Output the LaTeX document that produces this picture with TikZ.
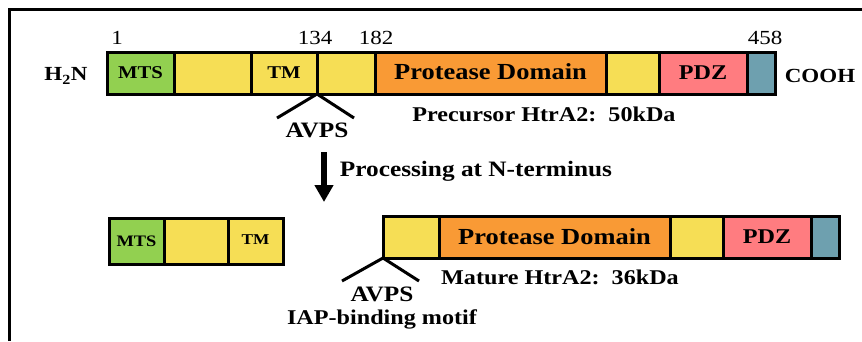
\documentclass[tikz,border=0pt]{standalone}
\usepackage{fontspec}
\setmainfont{Liberation Serif}[FakeStretch=1.15]
\usepackage{tikz}
\usetikzlibrary{arrows.meta}
\usetikzlibrary{positioning}
\usepackage{xcolor}
\definecolor{mtsgreen}{HTML}{92D050}
\definecolor{tmyellow}{HTML}{F6DE55}
\definecolor{protorange}{HTML}{F99A35}
\definecolor{pdzpink}{HTML}{FF7C80}
\definecolor{tailblue}{HTML}{6EA0AF}
\newcommand\fsz[1]{\fontsize{#1}{#1}\selectfont}
% one domain box: name, left, right, top, bottom, fill, text
\newcommand\domain[7]{
  \node[dom, fill=#6, minimum width={#3-#2}, minimum height={#5-#4}] (#1) at ({(#2+#3)/2}, {(#4+#5)/2}) {#7};
}
\tikzset{
  dom/.style={draw, line width=3pt, inner sep=0pt, outer sep=0pt, font=\bfseries},
  lbl/.style={inner sep=0pt, font=\bfseries},
  numlbl/.style={inner sep=0pt, font=\fsz{20}},
  caret/.style={line width=3pt},
}

\begin{document}
\begin{tikzpicture}[x=1pt, y=-1pt]
    \useasboundingbox (0,0) rectangle (862,341);
    \draw[line width=3pt] (9,341) -- (9,9) -- (862,9);

    % precursor
    \domain{mts}{107}{174}{52}{94}{mtsgreen}{\fsz{18}MTS}
    \domain{y1}{174}{251}{52}{94}{tmyellow}{}
    \domain{tm}{251}{317}{52}{94}{tmyellow}{\fsz{18}TM}
    \domain{y2}{317}{375}{52}{94}{tmyellow}{}
    \domain{prot}{375}{606}{52}{94}{protorange}{\fsz{23}\raisebox{3pt}{Protease Domain}}
    \domain{y3}{606}{659}{52}{94}{tmyellow}{}
    \domain{pdz}{659}{747}{52}{94}{pdzpink}{\fsz{21}PDZ}
    \domain{tail}{747}{775}{52}{94}{tailblue}{}

    \node[lbl, font=\bfseries\fsz{20}] (h2n) at (66,76) {H\textsubscript{2}N};
    \node[lbl, font=\bfseries\fsz{20}] (cooh) at (820,76) {COOH};
    \node[numlbl] (p1) at (117,38) {1};
    \node[numlbl] (p134) at (315,38) {134};
    \node[numlbl] (p182) at (376,38) {182};
    \node[numlbl] (p458) at (765,38) {458};

    \coordinate (c1l) at (277,118);
    \coordinate (c1r) at (354,118);
    \draw[caret] (c1l) -- (tm.south east) -- (c1r);
    \node[lbl, font=\bfseries\fsz{22}] (avps1) at (317,130) {AVPS};
    \node[lbl, font=\bfseries\fsz{21}] (prec) at (544,114) {Precursor HtrA2:\ \ 50kDa};

    % processing
    \coordinate (arrtop) at (324,152);
    \coordinate (arrbot) at (324,202);
    \draw[line width=6pt, -{Triangle[width=18pt, length=17pt]}] (arrtop) -- (arrbot);
    \node[lbl, font=\bfseries\fsz{22}] (proc) at (476,171) {Processing at N-terminus};

    % cleaved part
    \domain{mtsb}{109}{164}{218}{264}{mtsgreen}{\fsz{16}MTS}
    \domain{y1b}{164}{228}{218}{264}{tmyellow}{}
    \domain{tmb}{228}{283}{218}{264}{tmyellow}{\fsz{15}\raisebox{3pt}{TM}}

    % mature
    \domain{m1}{383}{439}{216}{258}{tmyellow}{}
    \domain{mprot}{439}{670}{216}{258}{protorange}{\fsz{23}Protease Domain}
    \domain{m2}{670}{723}{216}{258}{tmyellow}{}
    \domain{mpdz}{723}{811}{216}{258}{pdzpink}{\fsz{21}PDZ}
    \domain{mtail}{811}{839}{216}{258}{tailblue}{}

    \coordinate (c2l) at (342,281);
    \coordinate (c2r) at (419,281);
    \draw[caret] (c2l) -- (m1.south west) -- (c2r);
    \node[lbl, font=\bfseries\fsz{22}] (avps2) at (382,294) {AVPS};
    \node[lbl, font=\bfseries\fsz{21}] (iap) at (382,319) {IAP-binding motif};
    \node[lbl, font=\bfseries\fsz{21}] (mat) at (560,277) {Mature HtrA2:\ \ 36kDa};
\end{tikzpicture}
\end{document}
